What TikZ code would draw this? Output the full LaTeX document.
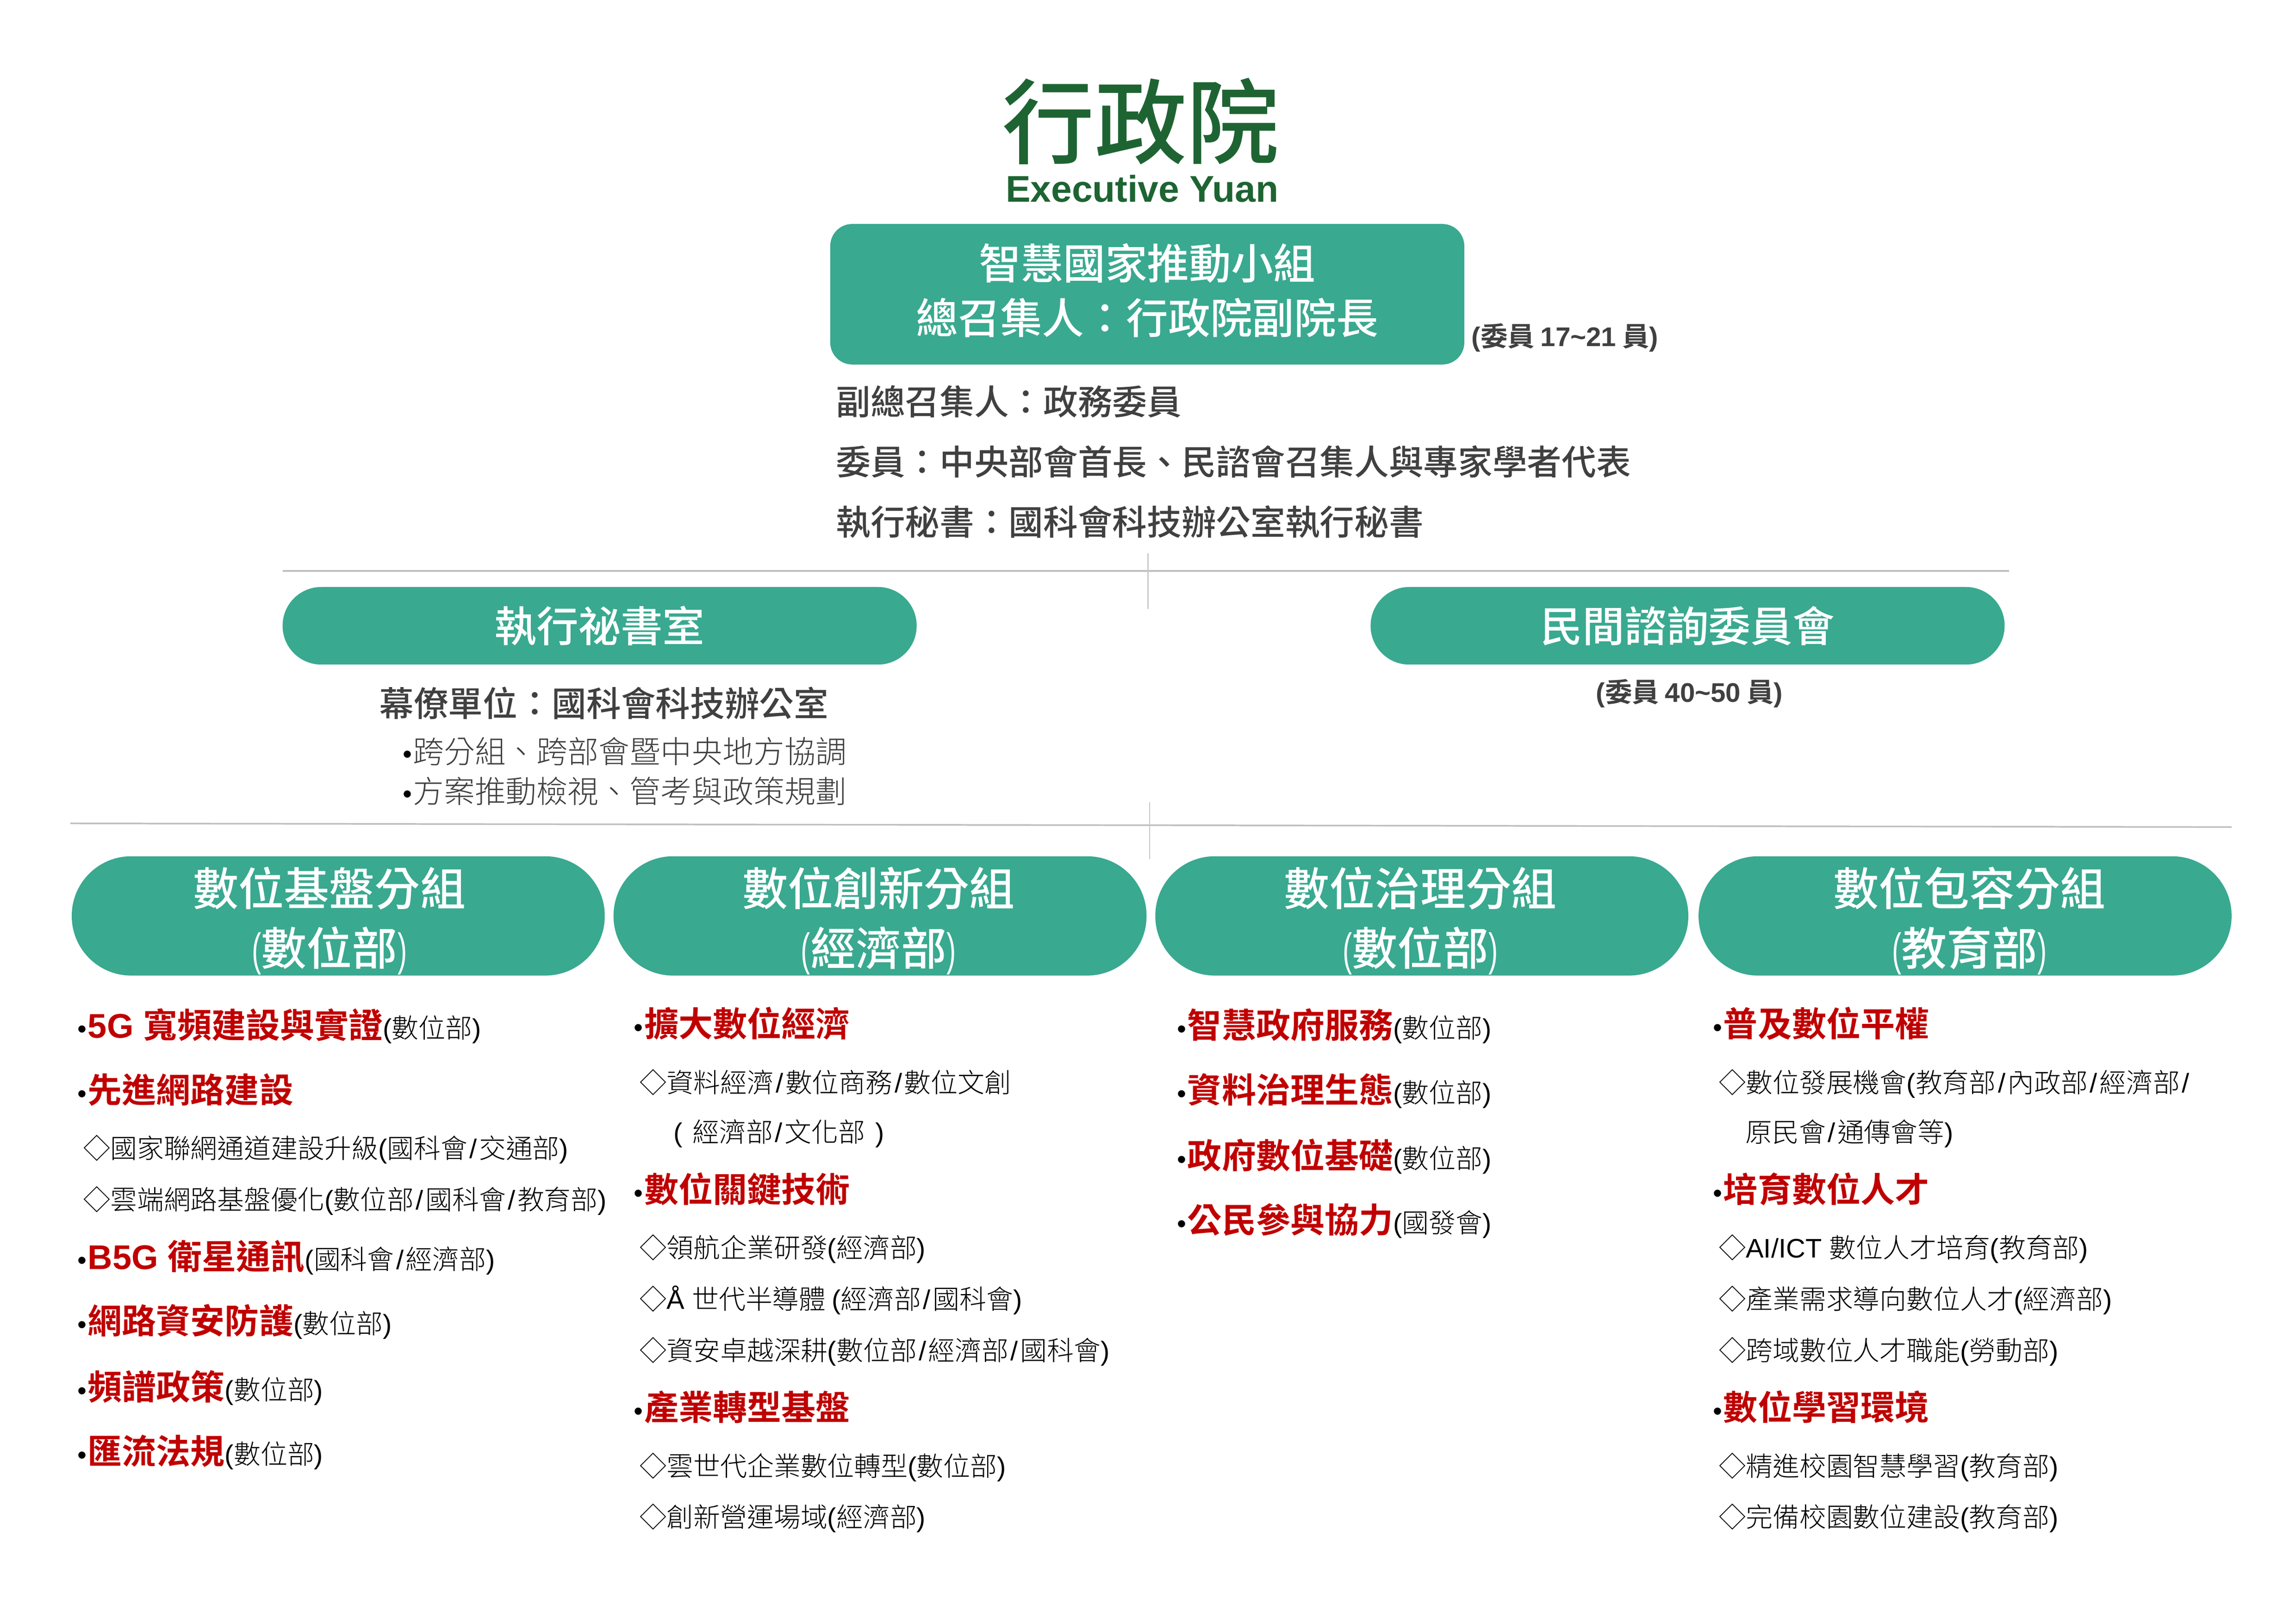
\documentclass[tikz,border=0pt]{standalone}
\usepackage{fontspec}
\setmainfont{Noto Sans CJK TC}[UprightFont=* Light,BoldFont=* Bold]
\newfontfamily\latf{Liberation Sans}
\newfontfamily\narrowlat{Liberation Sans}[FakeStretch=0.62]
\newfontfamily\medf{Noto Sans CJK TC Medium}
\newfontfamily\regf{Noto Sans CJK TC}
\definecolor{teal}{HTML}{39A990}
\definecolor{headred}{HTML}{C00000}
\definecolor{darktext}{HTML}{404040}
\definecolor{rule}{HTML}{BFBFBF}
\definecolor{logogreen}{HTML}{1E6433}
\newcommand\lat[1]{{\latf #1}}
\newcommand\lp{\lat{(}}
\newcommand\rp{\lat{)}}
\newcommand\sla{\kern1.4pt\lat{/}\kern1.4pt}
\newcommand\bul{{\fontsize{18}{22}\selectfont\latf •}\kern0.7pt}
\newcommand\hd[1]{{\fontsize{23.4}{28}\selectfont\bfseries\color{headred}#1}}
\newcommand\org[1]{{\fontsize{18.3}{22}\selectfont\lp #1\rp}}
\newcommand\ttl[1]{{\narrowlat (}#1{\narrowlat )}}
\tikzset{
  lab/.style={inner sep=0pt,outer sep=0pt,anchor=base west},
  headrow/.style={lab,yshift=-9.2pt,font=\fontsize{18.3}{22}\selectfont},
  subrow/.style={lab,yshift=-7.3pt,font=\fontsize{18.3}{22}\selectfont,text=black},
  infotext/.style={lab,yshift=-9.4pt,text=darktext,font=\fontsize{23.6}{28}\selectfont\medf},
  dutytext/.style={lab,yshift=-8.4pt,text=darktext,font=\fontsize{21.15}{26}\selectfont},
  counttext/.style={lab,yshift=-6.5pt,text=darktext,font=\fontsize{18.4}{22}\selectfont\bfseries},
  tealbox/.style={fill=teal,draw=none,text=white,inner sep=0pt},
  bigbox/.style={tealbox,minimum width=433pt,minimum height=96pt,rounded corners=15pt},
  midpill/.style={tealbox,minimum width=433pt,minimum height=53pt,rounded corners=26.4pt,
     font=\fontsize{28.7}{34}\selectfont\medf},
  grouppill/.style={tealbox,minimum width=364pt,minimum height=81.5pt,rounded corners=40.6pt},
  bigtitle/.style={inner sep=0pt,text=white,align=center,font=\fontsize{28.7}{37}\selectfont\medf},
  grouptitle/.style={inner sep=0pt,text=white,align=center,font=\fontsize{31}{41}\selectfont\medf},
  thickrule/.style={draw=rule,line width=1.1pt},
  thinrule/.style={draw=rule!85,line width=0.7pt},
}
\begin{document}
\begin{tikzpicture}[x=1pt,y=-1pt]
\useasboundingbox (0,0) rectangle (1568,1108.75);
% logo
\node[inner sep=0pt,text=logogreen,font=\fontsize{63}{70}\selectfont\medf] (logoA) at (779,83) {行政院};
\node[inner sep=0pt,text=logogreen,font=\fontsize{25.4}{30}\selectfont\bfseries\latf] (logoB) at (780,129) {Executive Yuan};
% top box
\node[bigbox] (lead) at (783.5,201) {};
\node[bigtitle] (leadt) at (783.5,198.4) {智慧國家推動小組\\總召集人：行政院副院長};
\node[counttext] (cnt1) at (1005,230) {\lp 委員 \lat{17\textasciitilde 21} 員\rp};
\node[infotext] (i1) at (571,274) {副總召集人：政務委員};
\node[infotext] (i2) at (571,315) {委員：中央部會首長、民諮會召集人與專家學者代表};
\node[infotext] (i3) at (571,356) {執行秘書：國科會科技辦公室執行秘書};
% rules
\coordinate (r1a) at (193,390); \coordinate (r1b) at (1372,390);
\coordinate (v1a) at (784,378); \coordinate (v1b) at (784,416);
\coordinate (r2a) at (48,562.5); \coordinate (r2b) at (1524,565);
\coordinate (v2a) at (785,548); \coordinate (v2b) at (785,587);
\draw[thickrule] (r1a) -- (r1b);
\draw[thinrule] (v1a) -- (v1b);
\draw[thickrule] (r2a) -- (r2b);
\draw[thinrule] (v2a) -- (v2b);
% second level
\node[midpill] (sec) at (409.5,427.5) {執行祕書室};
\node[midpill] (civ) at (1152.5,427.5) {民間諮詢委員會};
\node[infotext] (staff) at (259,480) {幕僚單位：國科會科技辦公室};
\node[dutytext] (d1) at (275,513) {{\color{black}\bul}跨分組、跨部會暨中央地方協調};
\node[dutytext] (d2) at (275,540) {{\color{black}\bul}方案推動檢視、管考與政策規劃};
\node[counttext] (cnt2) at (1090,473) {\lp 委員 \lat{40\textasciitilde 50} 員\rp};
% groups
\node[grouppill] (g1) at (231,625.7) {};
\node[grouppill] (g2) at (601,625.7) {};
\node[grouppill] (g3) at (971,625.7) {};
\node[grouppill] (g4) at (1342,625.7) {};
\node[grouptitle] (g1t) at (225,629) {數位基盤分組\\\ttl{數位部}};
\node[grouptitle] (g2t) at (600,629) {數位創新分組\\\ttl{經濟部}};
\node[grouptitle] (g3t) at (970,629) {數位治理分組\\\ttl{數位部}};
\node[grouptitle] (g4t) at (1345,629) {數位包容分組\\\ttl{教育部}};
% column 1
\node[headrow] (a1) at (53,700) {\bul\hd{\lat{5G }寬頻建設與實證}\org{數位部}};
\node[headrow] (a2) at (53,744) {\bul\hd{先進網路建設}};
\node[subrow] (a3) at (57,784) {◇國家聯網通道建設升級\lp 國科會\sla 交通部\rp};
\node[subrow] (a4) at (57,819) {◇雲端網路基盤優化\lp 數位部\sla 國科會\sla 教育部\rp};
\node[headrow] (a5) at (53,858) {\bul\hd{\lat{B5G }衛星通訊}\org{國科會\sla 經濟部}};
\node[headrow] (a6) at (53,902) {\bul\hd{網路資安防護}\org{數位部}};
\node[headrow] (a7) at (53,947) {\bul\hd{頻譜政策}\org{數位部}};
\node[headrow] (a8) at (53,991) {\bul\hd{匯流法規}\org{數位部}};
% column 2
\node[headrow] (b1) at (433,699) {\bul\hd{擴大數位經濟}};
\node[subrow] (b2) at (437,739) {◇資料經濟\sla 數位商務\sla 數位文創};
\node[subrow] (b3) at (460,773) {\lp\kern7pt 經濟部\sla 文化部\kern7pt\rp};
\node[headrow] (b4) at (433,812) {\bul\hd{數位關鍵技術}};
\node[subrow] (b5) at (437,852) {◇領航企業研發\lp 經濟部\rp};
\node[subrow] (b6) at (437,887) {◇\lat{Å }世代半導體 \lp 經濟部\sla 國科會\rp};
\node[subrow] (b7) at (437,922) {◇資安卓越深耕\lp 數位部\sla 經濟部\sla 國科會\rp};
\node[headrow] (b8) at (433,961) {\bul\hd{產業轉型基盤}};
\node[subrow] (b9) at (437,1001) {◇雲世代企業數位轉型\lp 數位部\rp};
\node[subrow] (b10) at (437,1036) {◇創新營運場域\lp 經濟部\rp};
% column 3
\node[headrow] (c1) at (804,700) {\bul\hd{智慧政府服務}\org{數位部}};
\node[headrow] (c2) at (804,744) {\bul\hd{資料治理生態}\org{數位部}};
\node[headrow] (c3) at (804,789) {\bul\hd{政府數位基礎}\org{數位部}};
\node[headrow] (c4) at (804,833) {\bul\hd{公民參與協力}\org{國發會}};
% column 4
\node[headrow] (e1) at (1170,699) {\bul\hd{普及數位平權}};
\node[subrow] (e2) at (1174,739) {◇數位發展機會\lp 教育部\sla 內政部\sla 經濟部\sla};
\node[subrow] (e3) at (1192,773) {原民會\sla 通傳會等\rp};
\node[headrow] (e4) at (1170,812) {\bul\hd{培育數位人才}};
\node[subrow] (e5) at (1174,852) {◇\lat{AI/ICT }數位人才培育\lp 教育部\rp};
\node[subrow] (e6) at (1174,887) {◇產業需求導向數位人才\lp 經濟部\rp};
\node[subrow] (e7) at (1174,922) {◇跨域數位人才職能\lp 勞動部\rp};
\node[headrow] (e8) at (1170,961) {\bul\hd{數位學習環境}};
\node[subrow] (e9) at (1174,1001) {◇精進校園智慧學習\lp 教育部\rp};
\node[subrow] (e10) at (1174,1036) {◇完備校園數位建設\lp 教育部\rp};
\end{tikzpicture}
\end{document}
